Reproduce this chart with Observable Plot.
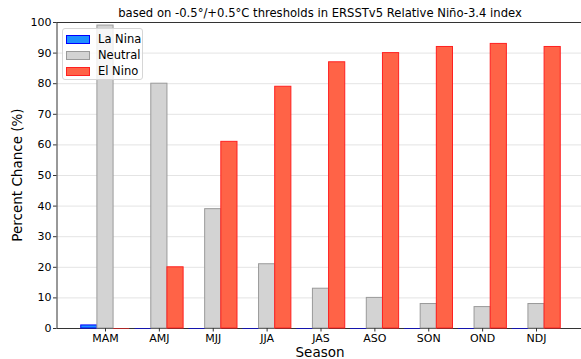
<!DOCTYPE html>
<html><head><meta charset="utf-8">
<script src="https://cdn.jsdelivr.net/npm/d3@7"></script>
<script src="https://cdn.jsdelivr.net/npm/@observablehq/plot@0.6"></script>
<style>
body{margin:0;background:#fff;}
#wrap{position:relative;width:581px;height:359px;overflow:hidden;font-family:"DejaVu Sans",sans-serif;color:#000;}
#chart svg{display:block;}
.lbl{position:absolute;white-space:nowrap;line-height:1;}
.legend{position:absolute;left:62px;top:28px;width:81px;height:52px;box-sizing:border-box;border:1px solid #d6d6d6;border-radius:3px;background:rgba(255,255,255,0.8);font-size:11.5px;}
.row{position:absolute;left:3px;height:16px;display:flex;align-items:center;}
.sw{width:22px;height:7px;margin-right:8px;border:1px solid;}
</style></head>
<body>
<div id="wrap">
  <div id="chart"></div>
  <div class="lbl" id="title" style="left:320px;top:8px;transform:translateX(-50%);font-size:11.6px;"></div>
  <div class="lbl" id="xlab" style="left:320px;top:346px;transform:translateX(-50%);font-size:13.5px;">Season</div>
  <div class="lbl" id="ylab" style="left:18px;top:175px;transform:translate(-50%,-50%) rotate(-90deg);font-size:13.5px;">Percent Chance (%)</div>
  <div class="legend" id="legend"></div>
</div>
<script>
const titleText = "based on -0.5°/+0.5°C thresholds in ERSSTv5 Relative Niño-3.4 index";
const seasons = ["MAM","AMJ","MJJ","JJA","JAS","ASO","SON","OND","NDJ"];
const laNina  = [1, 0, 0, 0, 0, 0, 0, 0, 0];
const neutral = [99, 80, 39, 21, 13, 10, 8, 7, 8];
const elNino  = [0, 20, 61, 79, 87, 90, 92, 93, 92];
const seriesNames = ["La Nina", "Neutral", "El Nino"];
const yTicks = [0,10,20,30,40,50,60,70,80,90,100];

const styles = {
  "La Nina": {fill: "#1E90FF", stroke: "#0000FF", off: -0.3},
  "Neutral": {fill: "#D3D3D3", stroke: "#9a9a9a", off: 0},
  "El Nino": {fill: "#FF6347", stroke: "#FF2020", off: 0.3}
};
const values = {"La Nina": laNina, "Neutral": neutral, "El Nino": elNino};
const rows = [];
for (const s of seriesNames) values[s].forEach((v, i) => rows.push({s, i, v}));
const bw = 0.3;

document.getElementById("title").textContent = titleText;

const plot = Plot.plot({
  width: 581, height: 359,
  marginLeft: 56.5, marginRight: 0, marginTop: 22, marginBottom: 31,
  style: {fontFamily: "DejaVu Sans, sans-serif", fontSize: "11px", color: "#000", background: "transparent"},
  x: {type: "linear", domain: [-0.9, 8.9], range: [56.5, 584.5]},
  y: {domain: [0, 100]},
  marks: [
    Plot.gridY(yTicks.filter(t => t > 0 && t < 100), {stroke: "#e4e4e4", strokeOpacity: 1}),
    Plot.ruleY([0, 100], {stroke: "#333", strokeWidth: 1}),
    Plot.ruleX([-0.9], {stroke: "#333", strokeWidth: 1}),
    Plot.rect(rows.filter(d => d.v > 0), {
      x1: d => d.i + styles[d.s].off - bw / 2,
      x2: d => d.i + styles[d.s].off + bw / 2,
      y1: 0, y2: d => d.v,
      fill: d => styles[d.s].fill,
      stroke: d => styles[d.s].stroke,
      strokeWidth: 1
    }),
    Plot.ruleY(rows.filter(d => d.v === 0), {
      x1: d => d.i + styles[d.s].off - bw / 2,
      x2: d => d.i + styles[d.s].off + bw / 2,
      y: d => d.v,
      stroke: d => styles[d.s].stroke,
      strokeOpacity: 0.6,
      strokeWidth: 1
    }),
    Plot.axisY({ticks: yTicks, tickSize: 3.5, tickPadding: 2, label: null, fontSize: 11, stroke: "#333"}),
    Plot.axisX({ticks: d3.range(seasons.length), tickFormat: i => seasons[i], tickSize: 3.5, tickPadding: 2, label: null, fontSize: 11, stroke: "#333"})
  ]
});
document.getElementById("chart").appendChild(plot);

const leg = document.getElementById("legend");
seriesNames.forEach((s, k) => {
  const r = document.createElement("div");
  r.className = "row";
  r.style.top = (2 + k * 16) + "px";
  const sw = document.createElement("div");
  sw.className = "sw";
  sw.style.background = styles[s].fill;
  sw.style.borderColor = styles[s].stroke;
  const t = document.createElement("span");
  t.textContent = s;
  r.appendChild(sw); r.appendChild(t);
  leg.appendChild(r);
});
</script>
</body></html>
